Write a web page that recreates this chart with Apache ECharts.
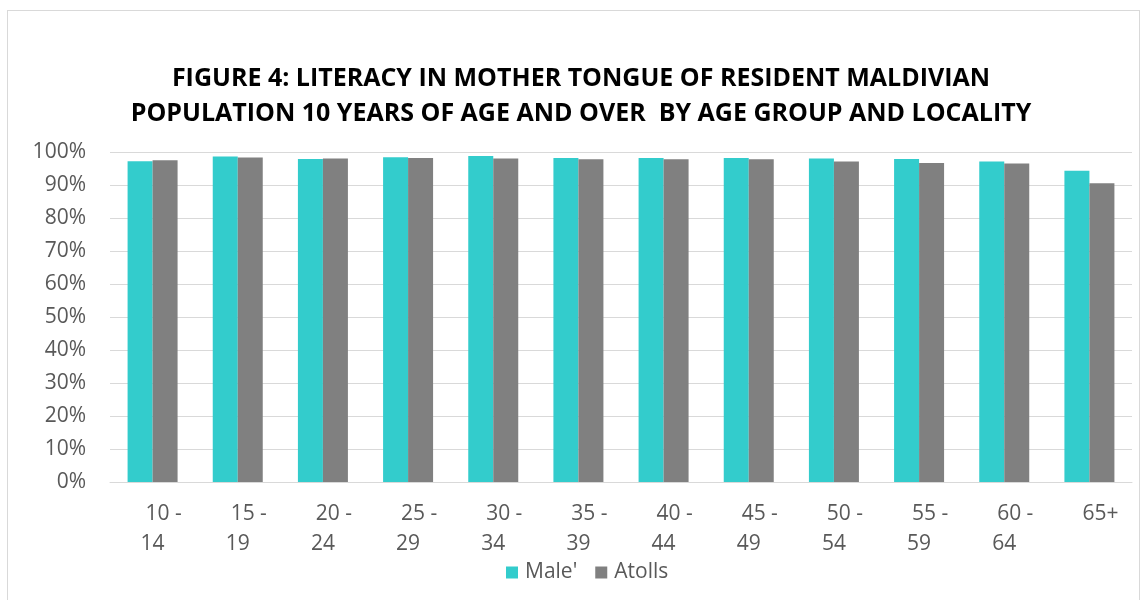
<!DOCTYPE html>
<html>
<head>
<meta charset="utf-8">
<script src="https://cdn.jsdelivr.net/npm/echarts@6/dist/echarts.min.js"></script>
<style>
html,body{margin:0;padding:0;background:#fff;}
#frame{position:absolute;left:7px;top:10px;width:1133px;height:600px;border:1px solid #d9d9d9;box-sizing:border-box;}
#chart{position:absolute;left:0;top:0;width:1148px;height:600px;}
</style>
</head>
<body>
<div id="frame"></div>
<div id="chart"></div>
<script>
const titleLines = ["FIGURE 4: LITERACY IN MOTHER TONGUE OF RESIDENT MALDIVIAN", "POPULATION 10 YEARS OF AGE AND OVER  BY AGE GROUP AND LOCALITY"];
const categories = ["10 - 14","15 - 19","20 - 24","25 - 29","30 - 34","35 - 39","40 - 44","45 - 49","50 - 54","55 - 59","60 - 64","65+"];
const seriesNames = ["Male'", "Atolls"];
const maleValues = [97.2, 98.6, 97.9, 98.4, 98.8, 98.2, 98.2, 98.2, 98.0, 97.9, 97.1, 94.3];
const atollValues = [97.5, 98.3, 98.0, 98.2, 98.0, 97.8, 97.8, 97.8, 97.1, 96.7, 96.5, 90.5];
const yTicks = [0, 10, 20, 30, 40, 50, 60, 70, 80, 90, 100];

const chart = echarts.init(document.getElementById('chart'), null, {renderer: 'canvas'});
const font = "'Open Sans', sans-serif";
chart.setOption({
  animation: false,
  title: {
    text: titleLines.join('\n'),
    left: 576, top: 56, textAlign: 'center',
    textStyle: {fontFamily: font, fontWeight: 'bold', fontSize: 25, color: '#000', lineHeight: 35}
  },
  grid: {left: 110, right: 16, top: 152, bottom: 118, containLabel: false},
  legend: {
    data: seriesNames, bottom: 12, left: 501, itemWidth: 12, itemHeight: 12, itemGap: 18,
    icon: 'rect',
    textStyle: {fontFamily: font, fontSize: 21, color: '#595959', padding: [0,0,0,2]}
  },
  xAxis: {
    type: 'category', data: categories,
    axisLine: {show: true, lineStyle: {color: '#d9d9d9'}},
    axisTick: {show: false},
    axisLabel: {
      interval: 0, margin: 17,
      formatter: function (v) {
        const p = v.split(' - ');
        if (p.length === 2) return '{a|' + p[0] + ' -}\n{b|' + p[1] + '}';
        return '{a|' + v + '}';
      },
      rich: {
        a: {fontFamily: font, fontSize: 21, color: '#595959', lineHeight: 30, padding: [0,0,0,22]},
        b: {fontFamily: font, fontSize: 21, color: '#595959', lineHeight: 30}
      }
    }
  },
  yAxis: {
    type: 'value', min: 0, max: 100, interval: 10,
    axisLine: {show: false}, axisTick: {show: false},
    splitLine: {lineStyle: {color: '#d9d9d9', width: 1}},
    axisLabel: {margin: 24, fontFamily: font, fontSize: 21, color: '#595959',
      formatter: function (v) { return yTicks.indexOf(v) >= 0 ? v + '%' : ''; }}
  },
  series: [
    {name: seriesNames[0], type: 'bar', data: maleValues, barWidth: 25, barGap: '0%', itemStyle: {color: '#33CCCC'}},
    {name: seriesNames[1], type: 'bar', data: atollValues, barWidth: 25, barGap: '0%', itemStyle: {color: '#808080'}}
  ]
});
</script>
</body>
</html>
